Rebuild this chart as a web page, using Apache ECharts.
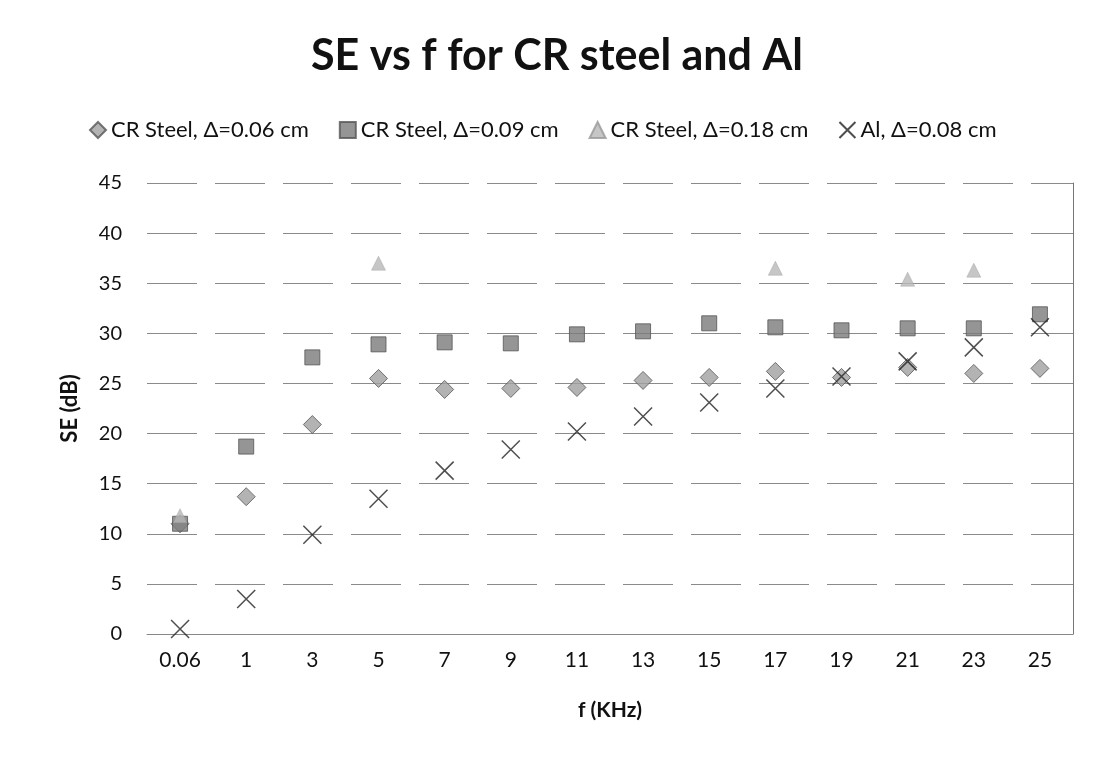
<!DOCTYPE html>
<html><head><meta charset="utf-8">
<script src="https://cdn.jsdelivr.net/npm/echarts@6/dist/echarts.min.js"></script>
<style>html,body{margin:0;padding:0;background:#fff}#c{width:1093px;height:773px}</style>
</head><body><div id="c"></div>
<script>
const categories = ['0.06','1','3','5','7','9','11','13','15','17','19','21','23','25'];
const steel006 = [11.0,13.7,20.9,25.5,24.4,24.5,24.6,25.3,25.6,26.2,25.6,26.6,26.0,26.5];
const steel009 = [11.0,18.7,27.6,28.9,29.1,29.0,29.9,30.2,31.0,30.6,30.3,30.5,30.5,31.9];
const steel018 = [11.8,null,null,37.0,null,null,null,null,null,36.5,null,35.4,36.3,null];
const al008   = [0.5,3.5,9.9,13.5,16.3,18.4,20.2,21.7,23.1,24.5,25.7,27.2,28.6,30.6];
const yTicks = {min:0, max:45, interval:5};

const font = 'Lato, "Open Sans", sans-serif';
const chart = echarts.init(document.getElementById('c'));
const xPath = 'path://M0,0L10,10M10,0L0,10';
chart.setOption({
  animation:false,
  title:{text:'SE vs f for CR steel and Al', left:306, top:30,
    textStyle:{fontFamily:font, fontWeight:'bold', fontSize:43, color:'#111'}},
  legend:{top:114, left:84, itemGap:30, itemWidth:16, itemHeight:16,
    textStyle:{fontFamily:font, fontSize:22, color:'#111'},
    data:['CR Steel, Δ=0.06 cm','CR Steel, Δ=0.09 cm','CR Steel, Δ=0.18 cm','Al, Δ=0.08 cm']},
  grid:{left:147, right:20, top:183, bottom:139},
  xAxis:{type:'category', data:categories, boundaryGap:true,
    axisLine:{show:true, lineStyle:{color:'#888'}}, axisTick:{show:false},
    axisLabel:{fontFamily:font, fontSize:21, color:'#111', margin:16},
    name:'f (KHz)', nameLocation:'middle', nameGap:66,
    nameTextStyle:{fontFamily:font, fontSize:21, fontWeight:'bold', color:'#111'}},
  yAxis:[{type:'value', min:yTicks.min, max:yTicks.max, interval:yTicks.interval,
    axisLine:{show:false}, axisTick:{show:false},
    axisLabel:{fontFamily:font, fontSize:20, color:'#111', margin:25},
    splitLine:{show:true, lineStyle:{color:'#8a8a8a', width:1.2, type:[50,18]}},
    name:'SE (dB)', nameLocation:'middle', nameGap:66, nameRotate:90,
    nameTextStyle:{fontFamily:font, fontSize:22, fontWeight:'bold', color:'#111'}},
    {type:'value', min:yTicks.min, max:yTicks.max, interval:yTicks.interval, position:'right',
    axisLine:{show:true, lineStyle:{color:'#777'}}, axisTick:{show:false}, axisLabel:{show:false}, splitLine:{show:false}}],
  series:[
    {name:'CR Steel, Δ=0.06 cm', type:'scatter', data:steel006, symbol:'diamond', symbolSize:18,
      itemStyle:{color:'#a0a0a0', borderColor:'#555', borderWidth:1}},
    {name:'CR Steel, Δ=0.09 cm', type:'scatter', data:steel009, symbol:'rect', symbolSize:15,
      itemStyle:{color:'#7a7a7a', borderColor:'#555', borderWidth:1}},
    {name:'CR Steel, Δ=0.18 cm', type:'scatter', data:steel018, symbol:'triangle', symbolSize:14,
      itemStyle:{color:'#b8b8b8', borderColor:'#999', borderWidth:0.5}},
    {name:'Al, Δ=0.08 cm', type:'scatter', data:al008, symbol:xPath, symbolSize:18,
      itemStyle:{color:'#222', borderColor:'#222', borderWidth:1.5}}
  ]
});
</script></body></html>
